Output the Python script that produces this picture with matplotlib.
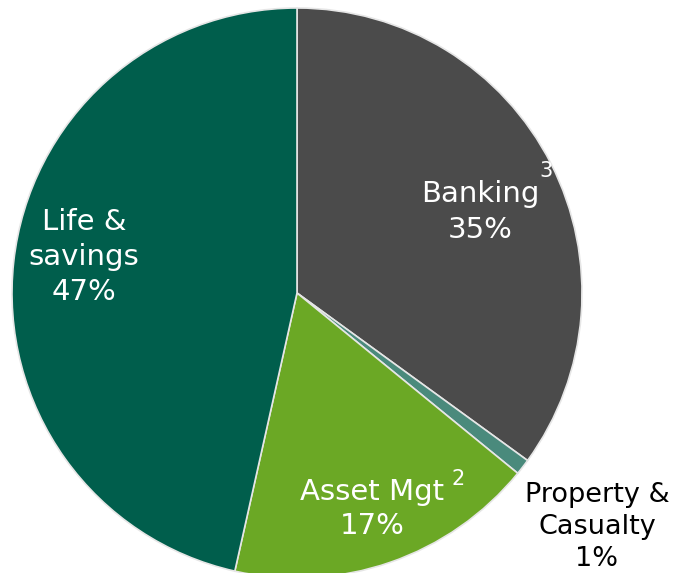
import matplotlib
matplotlib.use('Agg')
import matplotlib.pyplot as plt

segments = ['Banking', 'Property & Casualty', 'Asset Mgt', 'Life & savings']
shares = [35.0, 0.9, 17.6, 46.5]
pct_labels = ['35%', '1%', '17%', '47%']
colors = ['#4b4b4b', '#4a8a7c', '#6ba825', '#005e4c']

plt.rcParams['font.family'] = ['DejaVu Sans']

fig = plt.figure(figsize=(6.75, 5.73), dpi=100)
ax = fig.add_axes([0, 0, 1, 1])

ax.pie(shares, colors=colors, startangle=90, counterclock=False,
       center=(297, 280), radius=285, frame=True,
       wedgeprops=dict(edgecolor='#e6e6e6', linewidth=1.2))
ax.set_xlim(0, 675)
ax.set_ylim(0, 573)
ax.set_aspect('equal')
ax.axis('off')

fs = 21
ax.text(480, 361, segments[0] + '\n' + pct_labels[0], color='white', fontsize=fs,
        ha='center', va='center', linespacing=1.4)
ax.text(546, 402, '3', color='white', fontsize=15, ha='center', va='center')

ax.text(84, 316, 'Life &\nsavings\n' + pct_labels[3], color='white', fontsize=fs,
        ha='center', va='center', linespacing=1.33)

ax.text(372, 64, segments[2] + '\n' + pct_labels[2], color='white', fontsize=fs,
        ha='center', va='center', linespacing=1.25)
ax.text(458, 94, '2', color='white', fontsize=15, ha='center', va='center')

ax.text(597, 46, 'Property &\nCasualty\n' + pct_labels[1], color='black', fontsize=19.5,
        ha='center', va='center', linespacing=1.3)

fig.savefig('out.png', dpi=100)
